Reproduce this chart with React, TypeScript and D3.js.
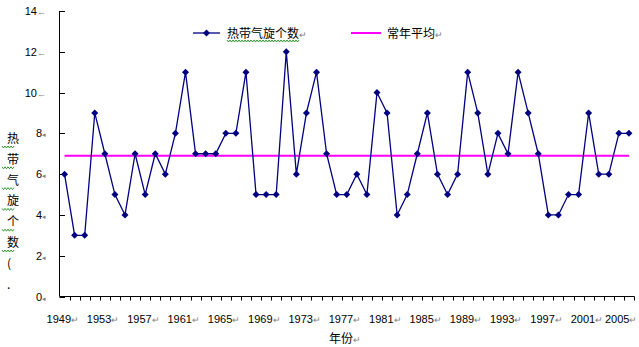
import React from "react";
import * as d3 from "d3";

const years: number[] = d3.range(1949, 2006);
const counts: number[] = [
  6, 3, 3, 9, 7, 5, 4, 7, 5, 7, 6,
  8, 11, 7, 7, 7, 8, 8, 11, 5, 5,
  5, 12, 6, 9, 11, 7, 5, 5, 6, 5,
  10, 9, 4, 5, 7, 9, 6, 5, 6, 11,
  9, 6, 8, 7, 11, 9, 7, 4, 4, 5,
  5, 9, 6, 6, 8, 8,
];
const normalAvg = 6.9;
const yTicks: number[] = [0, 2, 4, 6, 8, 10, 12, 14];
const xTickLabels: number[] = [1949, 1953, 1957, 1961, 1965, 1969, 1973, 1977, 1981, 1985, 1989, 1993, 1997, 2001, 2005];
const seriesName = "热带气旋个数";
const avgName = "常年平均";
const yTitleChars: string[] = ["热", "带", "气", "旋", "个", "数", "(", "."];
const xTitle = "年份";

const W = 639;
const H = 347;
const NAVY = "#000080";
const MAGENTA = "#FF00FF";
const GRAY = "#808080";
const LATIN = "'Liberation Sans', Arial, 'Noto Sans CJK SC', sans-serif";
const CJK = "'Noto Sans CJK SC', 'Liberation Sans', sans-serif";

function wavy(x0: number, x1: number, y: number): string {
  const pts: [number, number][] = [];
  let up = true;
  for (let x = x0; x <= x1; x += 1.5) {
    pts.push([x, up ? y - 1 : y + 1]);
    up = !up;
  }
  return d3.line()(pts) || "";
}

export default function App() {
  const x = d3.scaleBand<number>().domain(years).range([59.5, 634]).paddingInner(0).paddingOuter(0);
  const y = d3.scaleLinear().domain([0, 14]).range([296.5, 11]);
  const cx = (yr: number) => (x(yr) as number) + x.bandwidth() / 2;
  const data = years.map((yr, i) => ({ yr, v: counts[i] }));
  const line = d3.line<{ yr: number; v: number }>().x((d) => cx(d.yr)).y((d) => y(d.v));
  const diamond = (px: number, py: number) => `M${px},${py - 3.5}L${px + 3.5},${py}L${px},${py + 3.5}L${px - 3.5},${py}Z`;

  return (
    <svg width={W} height={H} style={{ position: "absolute", left: 0, top: 0, background: "#fff" }}>
      <rect width={W} height={H} fill="#fff" />
      {/* y axis */}
      <line x1={59.5} x2={59.5} y1={y(14)} y2={y(0)} stroke="#000" strokeWidth={1} />
      {yTicks.map((t) => (
        <g key={t}>
          <line x1={59.5} x2={65} y1={Math.round(y(t)) + 0.5} y2={Math.round(y(t)) + 0.5} stroke="#000" />
          <text x={46} y={y(t) + 4} textAnchor="end" fontFamily={LATIN} fontSize={11} fill="#000">
            {t}
            <tspan fill={GRAY} fontSize={t >= 10 ? 9 : 7}>{t >= 10 ? "←" : "◂"}</tspan>
          </text>
        </g>
      ))}
      {/* x axis */}
      <line x1={59.5} x2={634.5} y1={296.5} y2={296.5} stroke="#000" strokeWidth={1} />
      {years.map((yr) => (
        <line key={yr} x1={Math.round((x(yr) as number) + x.bandwidth()) + 0.5} x2={Math.round((x(yr) as number) + x.bandwidth()) + 0.5} y1={296.5} y2={300.5} stroke="#000" />
      ))}
      {xTickLabels.map((yr) => (
        <text key={yr} x={Math.min(cx(yr) - 18, 605)} y={323} fontFamily={LATIN} fontSize={11} fill="#000">
          {yr}
          <tspan fill={GRAY} fontSize={9}>↵</tspan>
        </text>
      ))}
      {/* average line */}
      <line x1={cx(years[0])} x2={cx(years[years.length - 1])} y1={y(normalAvg)} y2={y(normalAvg)} stroke={MAGENTA} strokeWidth={2} />
      {/* series */}
      <path d={line(data) || ""} fill="none" stroke={NAVY} strokeWidth={1.3} />
      {data.map((d) => (
        <path key={d.yr} d={diamond(cx(d.yr), y(d.v))} fill={NAVY} />
      ))}
      {/* legend */}
      <line x1={193} x2={220} y1={33} y2={33} stroke={NAVY} strokeWidth={1.3} />
      <path d={diamond(206.5, 33)} fill={NAVY} />
      <text x={227} y={38} fontFamily={CJK} fontSize={12} fill="#000">
        {seriesName}
        <tspan fill={GRAY} fontSize={9}>↵</tspan>
      </text>
      <path d={wavy(227, 299, 41)} fill="none" stroke="#008000" strokeWidth={0.8} />
      <line x1={351} x2={381} y1={33} y2={33} stroke={MAGENTA} strokeWidth={2} />
      <text x={387} y={38} fontFamily={CJK} fontSize={12} fill="#000">
        {avgName}
        <tspan fill={GRAY} fontSize={9}>↵</tspan>
      </text>
      {/* y title */}
      {yTitleChars.map((c, i) => (
        <g key={i}>
          <text x={7} y={143 + i * 20.8} fontFamily={CJK} fontSize={12} fill="#000">{c}</text>
          {i < 6 && <path d={wavy(2, 14, 147 + i * 20.8)} fill="none" stroke="#008000" strokeWidth={0.8} />}
        </g>
      ))}
      {/* x title */}
      <text x={329} y={343} fontFamily={CJK} fontSize={12} fill="#000">
        {xTitle}
        <tspan fill={GRAY} fontSize={9}>↵</tspan>
      </text>
    </svg>
  );
}
